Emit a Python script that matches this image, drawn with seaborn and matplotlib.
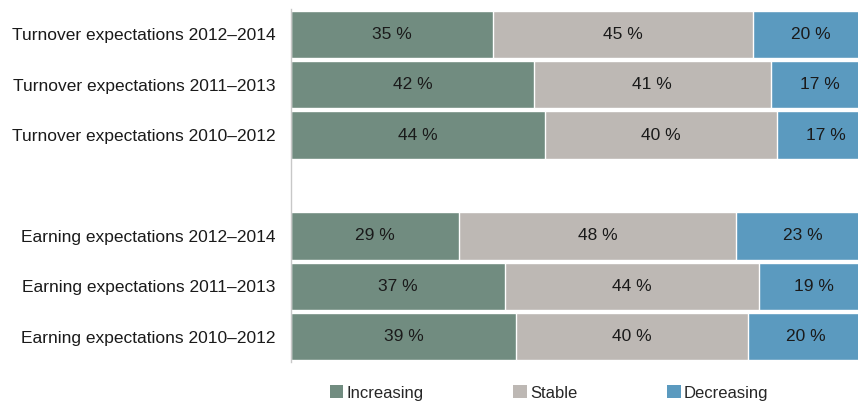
import matplotlib
matplotlib.use("Agg")
import matplotlib.pyplot as plt
import seaborn as sns
import pandas as pd
from matplotlib.patches import Patch

sns.set_theme(style="white")
plt.rcParams["font.family"] = ["Liberation Sans", "DejaVu Sans"]

categories = [
    "Turnover expectations 2012\u20132014",
    "Turnover expectations 2011\u20132013",
    "Turnover expectations 2010\u20132012",
    "Earning expectations 2012\u20132014",
    "Earning expectations 2011\u20132013",
    "Earning expectations 2010\u20132012",
]
increasing = [35, 42, 44, 29, 37, 39]
stable = [45, 41, 40, 48, 44, 40]
decreasing = [20, 17, 17, 23, 19, 20]
series_names = ["Increasing", "Stable", "Decreasing"]
colors = ["#718c80", "#bdb8b4", "#5b9abf"]

df = pd.DataFrame({
    "category": categories,
    "Increasing": increasing,
    "Stable": stable,
    "Decreasing": decreasing,
})
df["cum1"] = df["Increasing"]
df["cum2"] = df["Increasing"] + df["Stable"]
df["cum3"] = df["cum2"] + df["Decreasing"]

gap = " "
order = categories[:3] + [gap] + categories[3:]

fig = plt.figure(figsize=(8.58, 4.01), dpi=100)
ax = fig.add_axes([291 / 858, 1 - 361.7 / 401, 1 - 291 / 858, (361.7 - 9.3) / 401])

# stacked bars drawn back to front as cumulative totals
for col, color in zip(["cum3", "cum2", "cum1"], colors[::-1]):
    sns.barplot(data=df, y="category", x=col, order=order, orient="h",
                color=color, width=0.94, saturation=1, ax=ax)

# segment labels at the centre of each segment
ypos = {c: order.index(c) for c in categories}
for _, r in df.iterrows():
    y = ypos[r["category"]]
    starts = [0, r["cum1"], r["cum2"]]
    for s, v in zip(starts, [r["Increasing"], r["Stable"], r["Decreasing"]]):
        ax.text(s + v / 2, y, f"{v} %", ha="center", va="center",
                fontsize=12.5, color="#1a1a1a")

ax.set_xlim(0, (858 - 291) / 578 * 100)
ax.set_ylim(len(order) - 0.5, -0.5)
ax.set_xlabel("")
ax.set_ylabel("")
ax.set_xticks([])
ax.tick_params(axis="y", length=0, pad=11, labelsize=12.5, labelcolor="#1a1a1a")
for side in ["top", "right", "bottom"]:
    ax.spines[side].set_visible(False)
ax.spines["left"].set_color("#c8c8c8")
ax.spines["left"].set_linewidth(1.0)

handles = [Patch(facecolor=c, edgecolor="none") for c in colors]
fig.legend(handles, series_names, loc="center", ncol=3,
           bbox_to_anchor=(549 / 858, 1 - 393 / 401), frameon=False,
           fontsize=12, handlelength=0.8, handleheight=0.8,
           handletextpad=0.2, columnspacing=5.4,
           borderpad=0.0)

fig.savefig("out.png", dpi=100)
